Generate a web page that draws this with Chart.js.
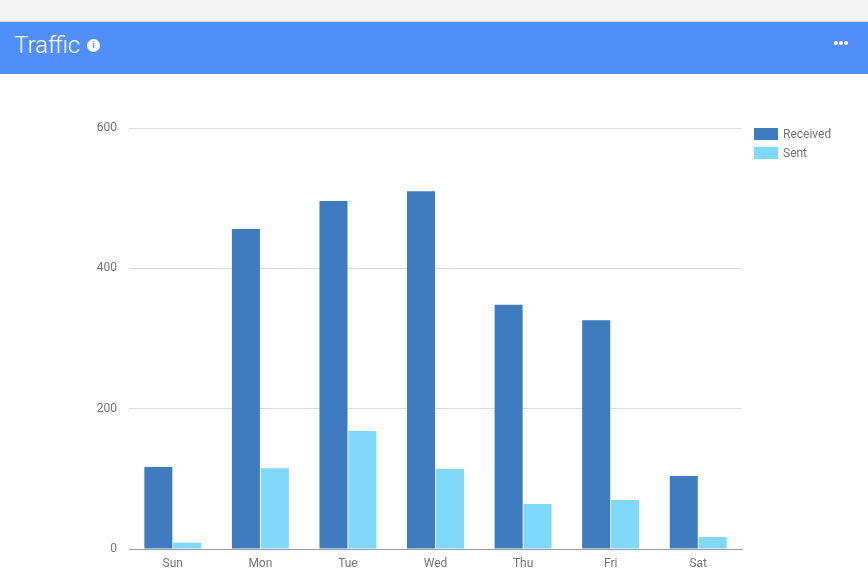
<!DOCTYPE html>
<html>
<head>
<meta charset="utf-8">
<script src="https://cdn.jsdelivr.net/npm/chart.js@4"></script>
<style>
  html, body { margin: 0; padding: 0; width: 868px; height: 576px; overflow: hidden; background: #fff; font-family: Roboto, sans-serif; }
  .top { position: absolute; left: 0; top: 0; width: 868px; height: 21px; background: #f4f4f4; border-bottom: 1px solid #e2e2e2; }
  .header { position: absolute; left: 0; top: 22px; width: 868px; height: 52px; background: #518ef8; }
  .title { position: absolute; left: 14px; top: 9px; color: #fff; font-size: 24px; font-weight: 300; }
  .info { position: absolute; left: 87px; top: 17px; width: 13px; height: 13px; border-radius: 50%; background: #fff; color: #518ef8; font-size: 9px; font-weight: bold; line-height: 13px; text-align: center; }
  .dots { position: absolute; left: 834px; top: 19px; display: flex; gap: 1px; }
  .dots span { display: block; width: 4px; height: 4px; border-radius: 50%; background: #fff; }
  .wrap { position: absolute; left: 0; top: 74px; width: 868px; height: 502px; }
  .legend { position: absolute; left: 754px; top: 126px; font-size: 12px; color: #757575; }
  .legend div { height: 19px; line-height: 16px; }
  .legend i { display: inline-block; width: 24px; height: 12px; vertical-align: -2px; margin-right: 5px; }
</style>
</head>
<body>
<div class="top"></div>
<div class="header">
  <div class="title">Traffic</div>
  <div class="info">i</div>
  <div class="dots"><span></span><span></span><span></span></div>
</div>
<div class="wrap"><canvas id="trafficChart"></canvas></div>
<div class="legend" id="legend"></div>
<script>
var days = ['Sun', 'Mon', 'Tue', 'Wed', 'Thu', 'Fri', 'Sat'];
var received = [117, 456, 496, 510, 348, 326, 104];
var sent = [9, 115, 168, 114, 64, 70, 17];
var yTicks = [0, 200, 400, 600];

var colors = ['#3f7bbf', '#80d8fc'];

var ctx = document.getElementById('trafficChart').getContext('2d');

var trafficChart = new Chart(ctx, {
    type: 'bar',
    data: {
        labels: days,
        datasets: [
            {
                label: 'Received',
                data: received,
                backgroundColor: colors[0],
                borderWidth: 0,
                categoryPercentage: 0.66,
                barPercentage: 0.97
            },
            {
                label: 'Sent',
                data: sent,
                backgroundColor: colors[1],
                borderWidth: 0,
                categoryPercentage: 0.66,
                barPercentage: 0.97
            }
        ]
    },
    options: {
        responsive: true,
        maintainAspectRatio: false,
        animation: false,
        layout: {
            padding: { left: 0, right: 126, top: 54, bottom: 0 }
        },
        plugins: {
            legend: { display: false },
            tooltip: { enabled: false }
        },
        scales: {
            y: {
                min: 0,
                max: 600,
                afterFit: function (scale) { scale.width = 129; },
                afterBuildTicks: function (scale) {
                    scale.ticks = yTicks.map(v => ({ value: v }));
                },
                ticks: {
                    padding: 12,
                    color: '#757575',
                    font: { family: 'Roboto', size: 12, lineHeight: 1.4 }
                },
                grid: {
                    drawTicks: false,
                    color: function (c) { return c.tick.value === 0 ? 'rgba(0,0,0,0)' : '#dddddd'; },
                    lineWidth: 1
                },
                border: { display: false }
            },
            x: {
                afterFit: function (scale) { scale.height = 27; },
                ticks: {
                    padding: 8,
                    maxRotation: 0,
                    minRotation: 0,
                    color: '#757575',
                    font: { family: 'Roboto', size: 12 }
                },
                grid: { display: false, drawTicks: false },
                border: { display: true, color: '#9e9e9e', width: 1 }
            }
        }
    }
});

var legend = document.getElementById('legend');
trafficChart.data.datasets.forEach(function (ds) {
    var row = document.createElement('div');
    row.innerHTML = '<i style="background:' + ds.backgroundColor + '"></i>' + ds.label;
    legend.appendChild(row);
});
</script>
</body>
</html>
